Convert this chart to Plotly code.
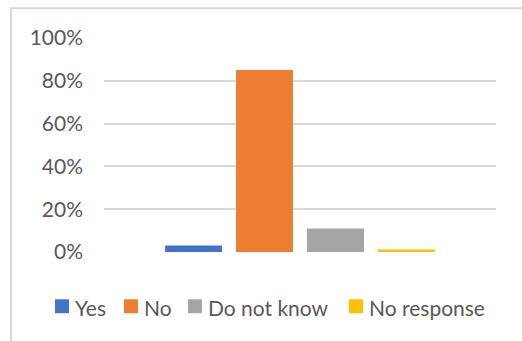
import plotly.graph_objects as go

# Survey answers, share of respondents
categories = ["Responses"]
answers = ["Yes", "No", "Do not know", "No response"]
shares = [0.03, 0.85, 0.11, 0.012]
colors = ["#4472C4", "#ED7D31", "#A5A5A5", "#FFC000"]
y_ticks = [0, 0.2, 0.4, 0.6, 0.8, 1.0]

W, H = 522, 341
L, R, T, B = 104, 26, 37.5, 88.5
pw, ph = W - L - R, H - T - B

# legend key left edges (px) along the bottom row
key_left = [55, 124, 188, 349]
key_size = 14
key_gap = 6
legend_mid = 307

TEXT = "#595959"
font_family = "Lato, 'Open Sans', sans-serif"

fig = go.Figure()
for name, val, col in zip(answers, shares, colors):
    fig.add_trace(go.Bar(x=categories, y=[val], name=name, marker_color=col,
                         marker_line_width=0, showlegend=False))


def px_x(x):
    return (x - L) / pw


def px_y(y):
    return (H - B - y) / ph


shapes = [dict(type="rect", xref="paper", yref="paper",
               x0=px_x(11), x1=px_x(540), y0=px_y(360), y1=px_y(7.5),
               line=dict(color="#D9D9D9", width=2), fillcolor="rgba(0,0,0,0)",
               layer="below")]
annotations = []
for name, col, x in zip(answers, colors, key_left):
    shapes.append(dict(type="rect", xref="paper", yref="paper",
                       x0=px_x(x), x1=px_x(x + key_size),
                       y0=px_y(legend_mid + key_size / 2),
                       y1=px_y(legend_mid - key_size / 2),
                       line=dict(width=0), fillcolor=col))
    annotations.append(dict(text=name, xref="paper", yref="paper",
                            x=px_x(x + key_size + key_gap - 2), y=px_y(legend_mid + 1),
                            xanchor="left", yanchor="middle", showarrow=False,
                            font=dict(size=21, color=TEXT)))

fig.update_layout(
    width=W, height=H,
    margin=dict(l=L, r=R, t=T, b=B, pad=0),
    paper_bgcolor="white", plot_bgcolor="white",
    barmode="group", bargap=0.276, bargroupgap=0.197,
    font=dict(family=font_family, size=21, color=TEXT),
    showlegend=False,
    xaxis=dict(showticklabels=False, showgrid=False, zeroline=False,
               showline=False, ticks="", automargin=False),
    yaxis=dict(range=[0, 1], tickvals=y_ticks, tickformat=".0%",
               showgrid=True, gridcolor="#D9D9D9", gridwidth=2,
               zeroline=False, showline=False, ticks="",
               ticklabelstandoff=20, automargin=False,
               tickfont=dict(size=21, color=TEXT)),
    shapes=shapes,
    annotations=annotations,
)

fig.write_html("out.html")
